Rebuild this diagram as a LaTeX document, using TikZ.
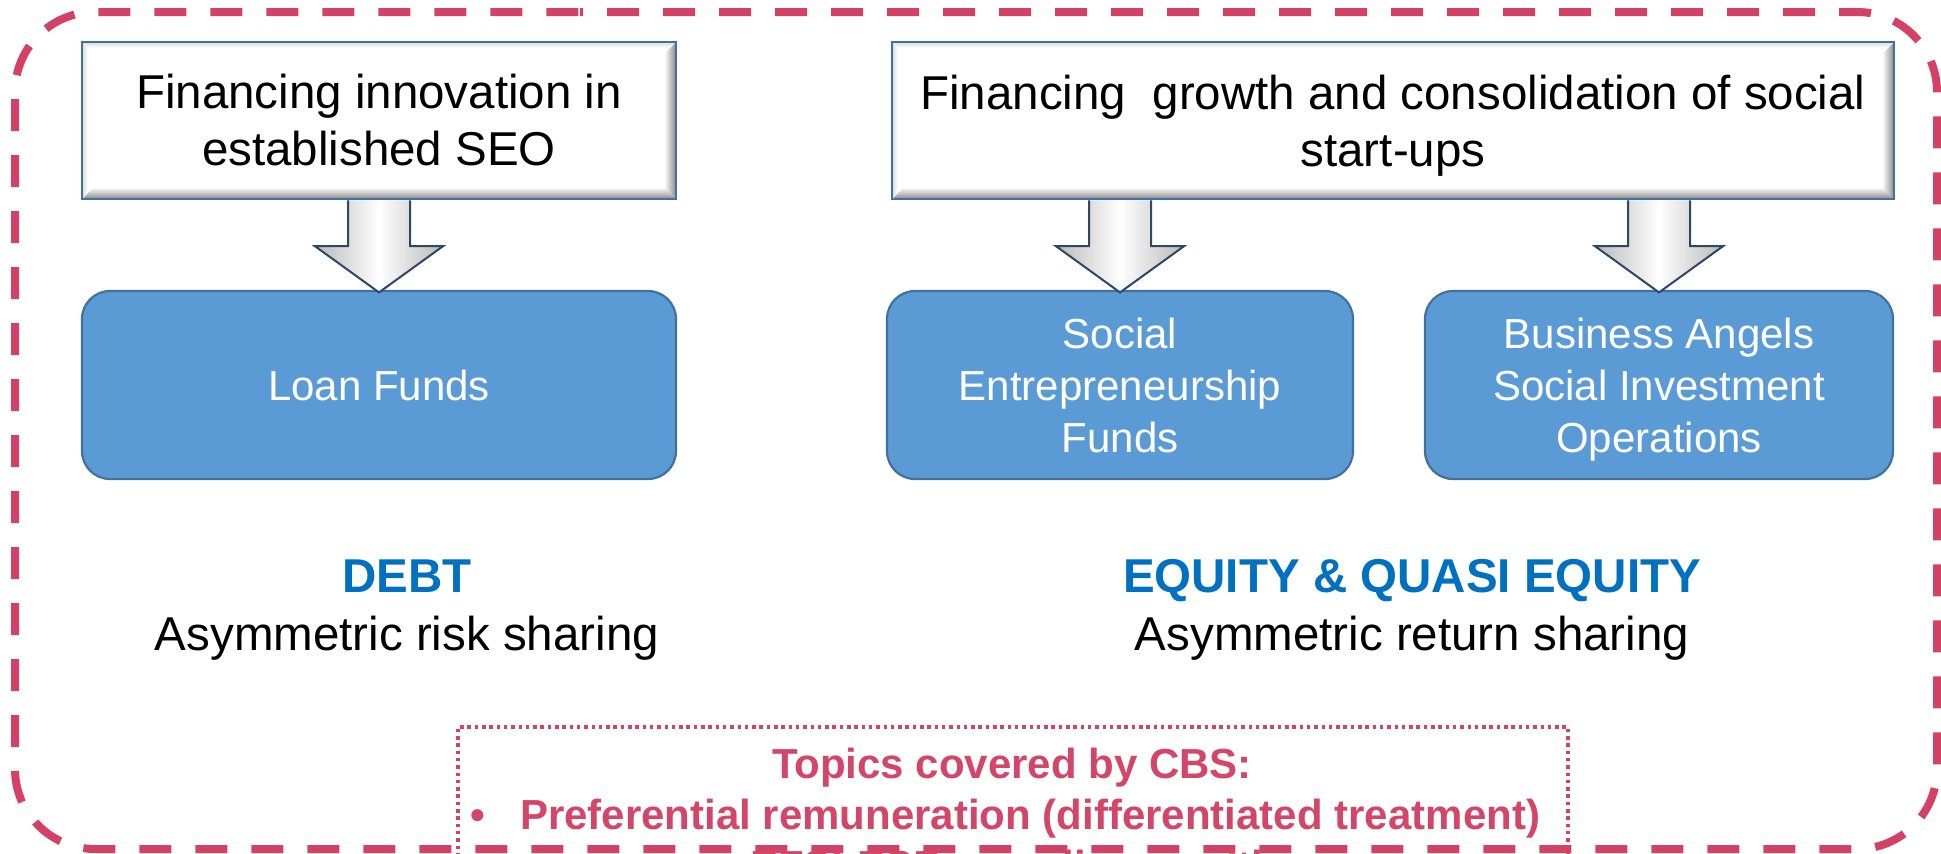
\documentclass[tikz,border=0pt]{standalone}
\usepackage{fontspec}
\setmainfont{Liberation Sans}
\usetikzlibrary{calc}
\definecolor{dashpink}{RGB}{211,66,101}
\definecolor{txtpink}{RGB}{211,70,104}
\definecolor{titleblue}{RGB}{0,112,192}
\definecolor{boxblue}{RGB}{91,155,213}
\definecolor{boxedge}{RGB}{65,113,156}
\definecolor{arrowedge}{RGB}{44,72,102}
\definecolor{bevelgray}{RGB}{135,135,135}

\newcommand{\bevel}[1]{%
  \path[top color=white, bottom color=bevelgray] (#1.south west) -- (#1.south east) -- ($(#1.south east)+(-12,-12)$) -- ($(#1.south west)+(12,-12)$) -- cycle;
  \path[left color=white, right color=bevelgray] (#1.north east) -- (#1.south east) -- ($(#1.south east)+(-12,-12)$) -- ($(#1.north east)+(-12,12)$) -- cycle;
  \path[left color=gray!30, right color=white] (#1.north west) -- (#1.south west) -- ($(#1.south west)+(6,-6)$) -- ($(#1.north west)+(6,6)$) -- cycle;
  \path[top color=gray!30, bottom color=white] (#1.north west) -- (#1.north east) -- ($(#1.north east)+(-6,6)$) -- ($(#1.north west)+(6,6)$) -- cycle;
  \draw[boxedge, line width=2.2pt] (#1.south west) rectangle (#1.north east);
}
\newcommand{\blockarrow}[3]{% #1 name, #2 upper node, #3 lower node
  \coordinate (#1s) at (#3.north |- #2.south);
  \coordinate (#1t) at ($(#3.north)+(0,2.5)$);
  \path[left color=gray!55, right color=gray!55, middle color=white]
    ($(#1s)+(-31,1.2)$) -- ($(#1s)+(-31,47)$) -- ($(#1s)+(-64,47)$) -- (#1t) --
    ($(#1s)+(64,47)$) -- ($(#1s)+(31,47)$) -- ($(#1s)+(31,1.2)$) -- cycle;
  \draw[arrowedge, line width=2pt, line join=miter]
    ($(#1s)+(-31,1.2)$) -- ($(#1s)+(-31,47)$) -- ($(#1s)+(-64,47)$) -- (#1t) --
    ($(#1s)+(64,47)$) -- ($(#1s)+(31,47)$) -- ($(#1s)+(31,1.2)$);
}

\begin{document}
\begin{tikzpicture}[x=1pt,y=-1pt,
  topbox/.style={rectangle, fill=white, inner sep=0pt, align=center,
    font=\fontsize{47.5}{57}\selectfont},
  bluebox/.style={rectangle, rounded corners=28pt, fill=boxblue, draw=boxedge,
    line width=2.2pt, inner sep=0pt, text=white, align=center,
    font=\fontsize{42}{52}\selectfont},
  headtext/.style={inner sep=0pt, text=titleblue, font=\fontsize{47.5}{57}\selectfont\bfseries},
  subtext/.style={inner sep=0pt, text=black, font=\fontsize{47.5}{57}\selectfont},
  cbstext/.style={inner sep=0pt, text=txtpink, font=\fontsize{42}{50}\selectfont\bfseries},
]
\useasboundingbox (0,0) rectangle (1941,854);
\clip (0,0) rectangle (1941,854);
\fill[white] (0,0) rectangle (1941,854);

% outer dashed frame
\draw[dashpink, line width=8pt, dash pattern=on 32pt off 24pt, dash phase=29pt,
  rounded corners=80pt] (500,12) -- (1937,12) -- (1937,849) -- (15,849) -- (15,12) -- cycle;

% top boxes
\node[topbox, minimum width=594pt, minimum height=157pt] (top1) at (379,120.5)
  {Financing innovation in\\established SEO};
\bevel{top1}
\node[topbox, minimum width=1002pt, minimum height=157pt] (top2) at (1393,120.5)
  {Financing\ \ growth and consolidation of social\\\smash{start-ups}};
\bevel{top2}

% blue boxes
\node[bluebox, minimum width=594pt, minimum height=188pt] (lf) at (379,385) {Loan Funds};
\node[bluebox, minimum width=466pt, minimum height=188pt] (sef) at (1120,385)
  {Social\\Entrepreneurship\\Funds};
\node[bluebox, minimum width=468pt, minimum height=188pt] (ba) at (1659,385)
  {Business Angels\\Social Investment\\\smash{Operations}};

% block arrows
\blockarrow{ar1}{top1}{lf}
\blockarrow{ar2}{top2}{sef}
\blockarrow{ar3}{top2}{ba}

% labels
\node[headtext, anchor=base] (debt) at (407,592) {DEBT};
\node[subtext, anchor=base] (debtsub) at (407,650) {Asymmetric risk sharing};
\node[headtext, anchor=base] (eq) at (1412,592) {EQUITY \& QUASI EQUITY};
\node[subtext, anchor=base] (eqsub) at (1412,650) {Asymmetric return sharing};

% CBS dotted box
\node[draw=dashpink, line width=3.5pt, dash pattern=on 3.5pt off 3.8pt,
  minimum width=1110pt, minimum height=180pt, inner sep=0pt] (cbs) at (1013,817) {};
\node[cbstext, anchor=base] (cbs1) at (1012,778) {Topics covered by CBS:};
\node[cbstext, anchor=base] (cbsb) at (478,829) {•};
\node[cbstext, anchor=base west] (cbs2) at (520,829) {Preferential remuneration (differentiated treatment)};
\node[cbstext, anchor=base west] (cbs3) at (750,880) {EFSI-ESF compliance with};
\end{tikzpicture}
\end{document}
